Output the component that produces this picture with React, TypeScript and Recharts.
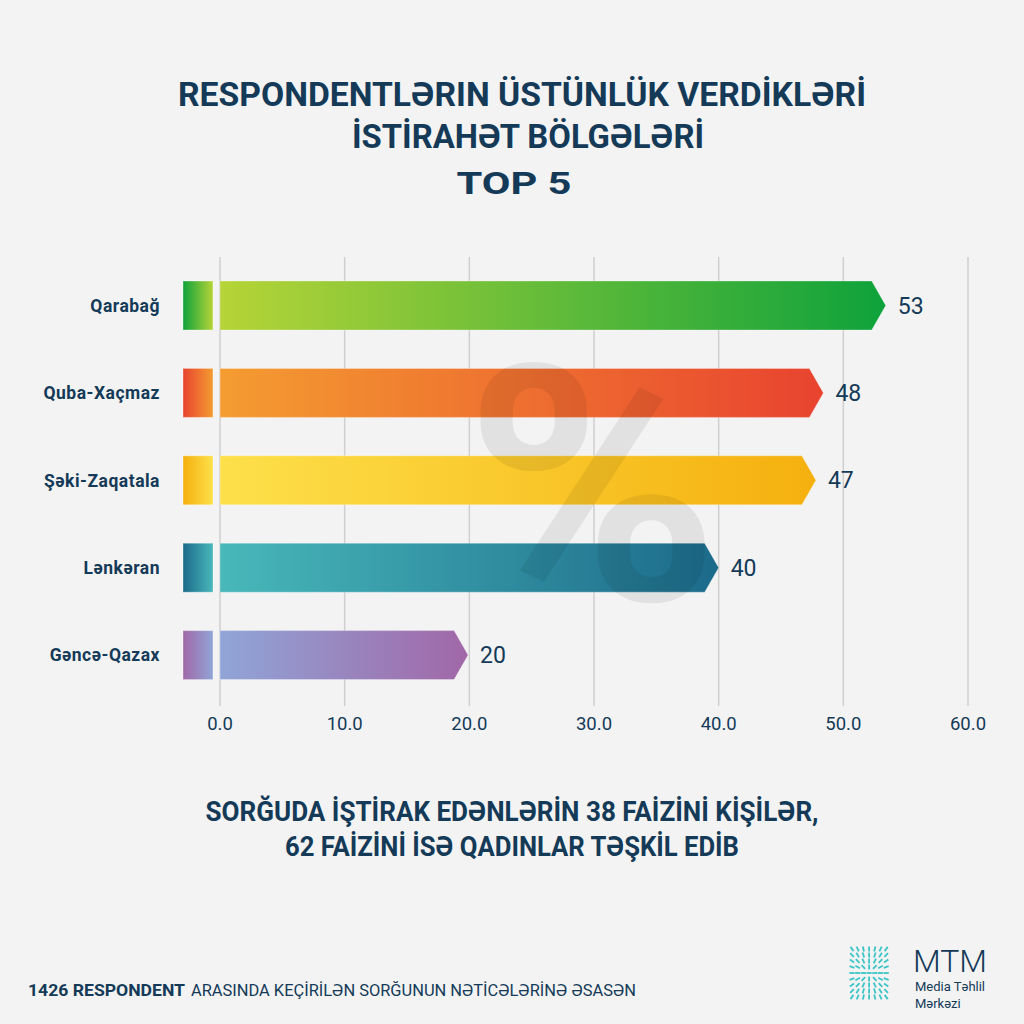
import React from "react";
import { BarChart, Bar, XAxis, YAxis, CartesianGrid, LabelList } from "recharts";

// regions, bar lengths as drawn (%) and the printed labels
const regions = ["Qarabağ", "Quba-Xaçmaz", "Şəki-Zaqatala", "Lənkəran", "Gəncə-Qazax"];
const shares = [53.4, 48.4, 47.8, 40, 19.9];
const shareLabels = [53, 48, 47, 40, 20];
const xTicks = [0, 10, 20, 30, 40, 50, 60];

// [bar start colour, bar end colour]
const palette: [string, string][] = [
  ["#b6d437", "#0ea23b"],
  ["#f49c31", "#e8432f"],
  ["#fde04a", "#f5b00e"],
  ["#48b8ba", "#1c6a8a"],
  ["#90a5d7", "#a167a7"],
];

const NAVY = "#143a58";
const data = regions.map((name, i) => ({ name, value: shares[i], label: shareLabels[i] }));

function ArrowBar(props: any) {
  const { x, y, width, height, index } = props;
  const [c1, c2] = palette[index];
  const tip = 14;
  const body = Math.max(width - tip, 0);
  const gid = `g-main-${index}`;
  const sid = `g-stub-${index}`;
  const pts = [
    [x, y],
    [x + body, y],
    [x + width, y + height / 2],
    [x + body, y + height],
    [x, y + height],
  ]
    .map((p) => p.join(","))
    .join(" ");
  return (
    <g>
      <defs>
        <linearGradient id={gid} x1="0" y1="0" x2="1" y2="0">
          <stop offset="0%" stopColor={c1} />
          <stop offset="100%" stopColor={c2} />
        </linearGradient>
        <linearGradient id={sid} x1="0" y1="0" x2="1" y2="0">
          <stop offset="0%" stopColor={c2} />
          <stop offset="100%" stopColor={c1} />
        </linearGradient>
      </defs>
      <rect x={x - 37} y={y} width={30} height={height} fill={`url(#${sid})`} stroke="#ffffff" strokeOpacity={0.35} />
      <polygon points={pts} fill={`url(#${gid})`} stroke="#ffffff" strokeOpacity={0.3} />
    </g>
  );
}

function ValueLabel(props: any) {
  const { x, y, width, height, value } = props;
  return (
    <text x={x + width + 12} y={y + height / 2 + 8} fontSize={23} fontFamily="Roboto" fill={NAVY}>
      {value}
    </text>
  );
}

function RegionTick(props: any) {
  const { y, payload } = props;
  return (
    <text
      x={160}
      y={y + 6}
      textAnchor="end"
      fontSize={17.5}
      letterSpacing={0.5}
      fontWeight={700}
      fontFamily="Roboto"
      fill={NAVY}
    >
      {payload.value}
    </text>
  );
}

function ValueTick(props: any) {
  const { x, payload } = props;
  return (
    <text x={x} y={730} textAnchor="middle" fontSize={18.5} fontFamily="Roboto" fill={NAVY}>
      {Number(payload.value).toFixed(1)}
    </text>
  );
}

function GridLine(props: any) {
  return (
    <line
      key={`grid-${props.index}-${props.x1}`}
      x1={props.x1}
      x2={props.x2}
      y1={props.y1 - 5}
      y2={props.y2 + 7}
      stroke="#cfcfcf"
      strokeWidth={1.5}
    />
  );
}

function Logo() {
  const dashes: React.ReactElement[] = [];
  const cx = 869;
  const cy = 973;
  for (let r = 0; r < 9; r++) {
    for (let c = 0; c < 7; c++) {
      const px = 852 + c * 5.7;
      const py = 949 + r * 6;
      const dx = px - cx;
      const dy = py - cy;
      const len = Math.hypot(dx, dy) || 1;
      const ux = (dx / len) * 2.6;
      const uy = (dy / len) * 2.6;
      dashes.push(
        <line key={`${r}-${c}`} x1={px - ux} y1={py - uy} x2={px + ux} y2={py + uy} stroke="#3cc4c6" strokeWidth={1.8} />
      );
    }
  }
  return (
    <g>
      {dashes}
      <text x={913} y={972} fontSize={32} fontFamily="Roboto" fontWeight={300} fill={NAVY}>
        MTM
      </text>
      <text x={915} y={991} fontSize={13} fontFamily="Roboto" fill={NAVY}>
        Media Təhlil
      </text>
      <text x={915} y={1008} fontSize={13} fontFamily="Roboto" fill={NAVY}>
        Mərkəzi
      </text>
    </g>
  );
}

export default function App() {
  const titleStyle = { fontFamily: "Roboto", fontWeight: 700, fill: NAVY } as const;
  return (
    <div style={{ position: "absolute", left: 0, top: 0, width: 1024, height: 1024, background: "#f3f3f3", overflow: "hidden" }}>
      <div style={{ position: "absolute", left: 0, top: 0 }}>
        <BarChart
          width={1024}
          height={1024}
          data={data}
          layout="vertical"
          margin={{ top: 262, right: 56, bottom: 295, left: 0 }}
        >
          <CartesianGrid horizontal={false} vertical={GridLine} />
          <XAxis
            type="number"
            domain={[0, 60]}
            ticks={xTicks}
            height={30}
            axisLine={false}
            tickLine={false}
            tick={ValueTick}
            interval={0}
          />
          <YAxis type="category" dataKey="name" width={220} axisLine={false} tickLine={false} tick={RegionTick} interval={0} />
          <Bar dataKey="value" barSize={49} shape={ArrowBar} isAnimationActive={false}>
            <LabelList dataKey="label" content={ValueLabel} />
          </Bar>
        </BarChart>
      </div>
      <svg width={1024} height={1024} style={{ position: "absolute", left: 0, top: 0, pointerEvents: "none" }}>
        <text x={592} y={600} textAnchor="middle" fontSize={330} fontFamily="Roboto" fontWeight={700} fill="#000" fillOpacity={0.07} textLength={255} lengthAdjust="spacingAndGlyphs">
          %
        </text>
        <text x={522} y={106} textAnchor="middle" fontSize={33} textLength={688} lengthAdjust="spacingAndGlyphs" {...titleStyle}>
          RESPONDENTLƏRIN ÜSTÜNLÜK VERDİKLƏRİ
        </text>
        <text x={528} y={148} textAnchor="middle" fontSize={33} textLength={352} lengthAdjust="spacingAndGlyphs" {...titleStyle}>
          İSTİRAHƏT BÖLGƏLƏRİ
        </text>
        <text x={514} y={194} textAnchor="middle" fontSize={32} textLength={115} lengthAdjust="spacingAndGlyphs" {...titleStyle}>
          TOP 5
        </text>
        <text x={512} y={821} textAnchor="middle" fontSize={27} textLength={613} lengthAdjust="spacingAndGlyphs" {...titleStyle}>
          SORĞUDA İŞTİRAK EDƏNLƏRİN 38 FAİZİNİ KİŞİLƏR,
        </text>
        <text x={512} y={856} textAnchor="middle" fontSize={27} textLength={454} lengthAdjust="spacingAndGlyphs" {...titleStyle}>
          62 FAİZİNİ İSƏ QADINLAR TƏŞKİL EDİB
        </text>
        <text x={28} y={996} fontSize={16} fontFamily="Roboto" fontWeight={700} fill={NAVY} textLength={157} lengthAdjust="spacingAndGlyphs">
          1426 RESPONDENT
        </text>
        <text x={191} y={996} fontSize={16} fontFamily="Roboto" fill={NAVY} textLength={445} lengthAdjust="spacingAndGlyphs">
          ARASINDA KEÇİRİLƏN SORĞUNUN NƏTİCƏLƏRİNƏ ƏSASƏN
        </text>
        <Logo />
      </svg>
    </div>
  );
}
